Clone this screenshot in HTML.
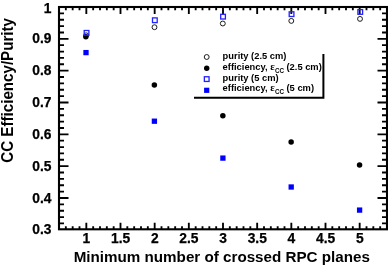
<!DOCTYPE html>
<html><head><meta charset="utf-8"><title>CC Efficiency/Purity</title>
<style>html,body{margin:0;padding:0;background:#fff;}svg{display:block;}text{font-family:"Liberation Sans",Arial,sans-serif;font-weight:bold;fill:#000;}</style></head><body>
<svg width="388" height="268" viewBox="0 0 388 268">
<rect x="0" y="0" width="388" height="268" fill="#fff"/>
<path d="M65.83 229.3 v-3.00 M65.83 7.0 v3.3 M72.67 229.3 v-3.00 M72.67 7.0 v3.3 M79.50 229.3 v-3.00 M79.50 7.0 v3.3 M86.33 229.3 v-6.60 M86.33 7.0 v6.9 M93.17 229.3 v-3.00 M93.17 7.0 v3.3 M100.00 229.3 v-3.00 M100.00 7.0 v3.3 M106.83 229.3 v-3.00 M106.83 7.0 v3.3 M113.67 229.3 v-3.00 M113.67 7.0 v3.3 M120.50 229.3 v-6.60 M120.50 7.0 v6.9 M127.33 229.3 v-3.00 M127.33 7.0 v3.3 M134.17 229.3 v-3.00 M134.17 7.0 v3.3 M141.00 229.3 v-3.00 M141.00 7.0 v3.3 M147.83 229.3 v-3.00 M147.83 7.0 v3.3 M154.67 229.3 v-6.60 M154.67 7.0 v6.9 M161.50 229.3 v-3.00 M161.50 7.0 v3.3 M168.33 229.3 v-3.00 M168.33 7.0 v3.3 M175.17 229.3 v-3.00 M175.17 7.0 v3.3 M182.00 229.3 v-3.00 M182.00 7.0 v3.3 M188.83 229.3 v-6.60 M188.83 7.0 v6.9 M195.67 229.3 v-3.00 M195.67 7.0 v3.3 M202.50 229.3 v-3.00 M202.50 7.0 v3.3 M209.33 229.3 v-3.00 M209.33 7.0 v3.3 M216.17 229.3 v-3.00 M216.17 7.0 v3.3 M223.00 229.3 v-6.60 M223.00 7.0 v6.9 M229.83 229.3 v-3.00 M229.83 7.0 v3.3 M236.67 229.3 v-3.00 M236.67 7.0 v3.3 M243.50 229.3 v-3.00 M243.50 7.0 v3.3 M250.33 229.3 v-3.00 M250.33 7.0 v3.3 M257.17 229.3 v-6.60 M257.17 7.0 v6.9 M264.00 229.3 v-3.00 M264.00 7.0 v3.3 M270.83 229.3 v-3.00 M270.83 7.0 v3.3 M277.67 229.3 v-3.00 M277.67 7.0 v3.3 M284.50 229.3 v-3.00 M284.50 7.0 v3.3 M291.33 229.3 v-6.60 M291.33 7.0 v6.9 M298.17 229.3 v-3.00 M298.17 7.0 v3.3 M305.00 229.3 v-3.00 M305.00 7.0 v3.3 M311.83 229.3 v-3.00 M311.83 7.0 v3.3 M318.67 229.3 v-3.00 M318.67 7.0 v3.3 M325.50 229.3 v-6.60 M325.50 7.0 v6.9 M332.33 229.3 v-3.00 M332.33 7.0 v3.3 M339.17 229.3 v-3.00 M339.17 7.0 v3.3 M346.00 229.3 v-3.00 M346.00 7.0 v3.3 M352.83 229.3 v-3.00 M352.83 7.0 v3.3 M359.67 229.3 v-6.60 M359.67 7.0 v6.9 M366.50 229.3 v-3.00 M366.50 7.0 v3.3 M373.33 229.3 v-3.00 M373.33 7.0 v3.3 M380.17 229.3 v-3.00 M380.17 7.0 v3.3 M59.0 223.43 h5.0 M387.0 223.43 h-5.0 M59.0 217.07 h5.0 M387.0 217.07 h-5.0 M59.0 210.70 h5.0 M387.0 210.70 h-5.0 M59.0 204.34 h5.0 M387.0 204.34 h-5.0 M59.0 197.97 h9.5 M387.0 197.97 h-9.5 M59.0 191.61 h5.0 M387.0 191.61 h-5.0 M59.0 185.24 h5.0 M387.0 185.24 h-5.0 M59.0 178.87 h5.0 M387.0 178.87 h-5.0 M59.0 172.51 h5.0 M387.0 172.51 h-5.0 M59.0 166.14 h9.5 M387.0 166.14 h-9.5 M59.0 159.78 h5.0 M387.0 159.78 h-5.0 M59.0 153.41 h5.0 M387.0 153.41 h-5.0 M59.0 147.05 h5.0 M387.0 147.05 h-5.0 M59.0 140.68 h5.0 M387.0 140.68 h-5.0 M59.0 134.31 h9.5 M387.0 134.31 h-9.5 M59.0 127.95 h5.0 M387.0 127.95 h-5.0 M59.0 121.58 h5.0 M387.0 121.58 h-5.0 M59.0 115.22 h5.0 M387.0 115.22 h-5.0 M59.0 108.85 h5.0 M387.0 108.85 h-5.0 M59.0 102.49 h9.5 M387.0 102.49 h-9.5 M59.0 96.12 h5.0 M387.0 96.12 h-5.0 M59.0 89.75 h5.0 M387.0 89.75 h-5.0 M59.0 83.39 h5.0 M387.0 83.39 h-5.0 M59.0 77.02 h5.0 M387.0 77.02 h-5.0 M59.0 70.66 h9.5 M387.0 70.66 h-9.5 M59.0 64.29 h5.0 M387.0 64.29 h-5.0 M59.0 57.93 h5.0 M387.0 57.93 h-5.0 M59.0 51.56 h5.0 M387.0 51.56 h-5.0 M59.0 45.19 h5.0 M387.0 45.19 h-5.0 M59.0 38.83 h9.5 M387.0 38.83 h-9.5 M59.0 32.46 h5.0 M387.0 32.46 h-5.0 M59.0 26.10 h5.0 M387.0 26.10 h-5.0 M59.0 19.73 h5.0 M387.0 19.73 h-5.0 M59.0 13.37 h5.0 M387.0 13.37 h-5.0" stroke="#000" stroke-width="1.85" fill="none"/>
<rect x="59.0" y="7.0" width="328.0" height="222.3" fill="none" stroke="#000" stroke-width="2.1"/>
<text x="51.4" y="234.35" font-size="13.8" stroke="#000" stroke-width="0.25" text-anchor="end">0.3</text>
<text x="51.4" y="202.52" font-size="13.8" stroke="#000" stroke-width="0.25" text-anchor="end">0.4</text>
<text x="51.4" y="170.69" font-size="13.8" stroke="#000" stroke-width="0.25" text-anchor="end">0.5</text>
<text x="51.4" y="138.86" font-size="13.8" stroke="#000" stroke-width="0.25" text-anchor="end">0.6</text>
<text x="51.4" y="107.04" font-size="13.8" stroke="#000" stroke-width="0.25" text-anchor="end">0.7</text>
<text x="51.4" y="75.21" font-size="13.8" stroke="#000" stroke-width="0.25" text-anchor="end">0.8</text>
<text x="51.4" y="43.38" font-size="13.8" stroke="#000" stroke-width="0.25" text-anchor="end">0.9</text>
<text x="51.4" y="13.00" font-size="13.8" stroke="#000" stroke-width="0.25" text-anchor="end">1</text>
<text x="86.43" y="242.9" font-size="13.8" stroke="#000" stroke-width="0.25" text-anchor="middle">1</text>
<text x="120.60" y="242.9" font-size="13.8" stroke="#000" stroke-width="0.25" text-anchor="middle">1.5</text>
<text x="154.77" y="242.9" font-size="13.8" stroke="#000" stroke-width="0.25" text-anchor="middle">2</text>
<text x="188.93" y="242.9" font-size="13.8" stroke="#000" stroke-width="0.25" text-anchor="middle">2.5</text>
<text x="223.10" y="242.9" font-size="13.8" stroke="#000" stroke-width="0.25" text-anchor="middle">3</text>
<text x="257.27" y="242.9" font-size="13.8" stroke="#000" stroke-width="0.25" text-anchor="middle">3.5</text>
<text x="291.43" y="242.9" font-size="13.8" stroke="#000" stroke-width="0.25" text-anchor="middle">4</text>
<text x="325.60" y="242.9" font-size="13.8" stroke="#000" stroke-width="0.25" text-anchor="middle">4.5</text>
<text x="359.77" y="242.9" font-size="13.8" stroke="#000" stroke-width="0.25" text-anchor="middle">5</text>
<text x="73.7" y="261.6" font-size="15.2">Minimum number of crossed RPC planes</text>
<text transform="translate(13.1,162.7) rotate(-90) scale(0.935,1)" font-size="16.2">CC Efficiency/Purity</text>
<circle cx="86.2" cy="35.3" r="2.45" fill="none" stroke="#111" stroke-width="0.95"/>
<circle cx="154.5" cy="27.2" r="2.45" fill="none" stroke="#111" stroke-width="0.95"/>
<circle cx="222.8" cy="23.5" r="2.45" fill="none" stroke="#111" stroke-width="0.95"/>
<circle cx="291.3" cy="20.9" r="2.45" fill="none" stroke="#111" stroke-width="0.95"/>
<circle cx="360" cy="18.9" r="2.45" fill="none" stroke="#111" stroke-width="0.95"/>
<circle cx="85.85" cy="36.8" r="2.75" fill="#000"/>
<circle cx="154.35" cy="85.1" r="2.75" fill="#000"/>
<circle cx="222.85" cy="115.7" r="2.75" fill="#000"/>
<circle cx="291.15" cy="142" r="2.75" fill="#000"/>
<circle cx="359.55" cy="164.9" r="2.75" fill="#000"/>
<rect x="84.20" y="30.50" width="4.7" height="4.7" fill="none" stroke="#2222ff" stroke-width="1.3"/>
<rect x="152.50" y="17.90" width="4.7" height="4.7" fill="none" stroke="#2222ff" stroke-width="1.3"/>
<rect x="220.70" y="14.30" width="4.7" height="4.7" fill="none" stroke="#2222ff" stroke-width="1.3"/>
<rect x="289.20" y="11.80" width="4.7" height="4.7" fill="none" stroke="#2222ff" stroke-width="1.3"/>
<rect x="357.90" y="9.60" width="4.7" height="4.7" fill="none" stroke="#2222ff" stroke-width="1.3"/>
<rect x="83.35" y="49.95" width="5.3" height="5.3" fill="#0000ff"/>
<rect x="151.75" y="118.55" width="5.3" height="5.3" fill="#0000ff"/>
<rect x="220.25" y="155.45" width="5.3" height="5.3" fill="#0000ff"/>
<rect x="288.55" y="184.35" width="5.3" height="5.3" fill="#0000ff"/>
<rect x="356.95" y="207.45" width="5.3" height="5.3" fill="#0000ff"/>
<rect x="191" y="50" width="131" height="46.5" fill="#fff"/>
<path d="M194 97.8 H323.4 V54" fill="none" stroke="#000" stroke-width="2"/>
<circle cx="206.7" cy="57" r="2.45" fill="none" stroke="#111" stroke-width="0.95"/>
<circle cx="206.7" cy="68.2" r="2.7" fill="#000"/>
<rect x="204.35" y="76.75" width="4.7" height="4.7" fill="none" stroke="#2222ff" stroke-width="1.3"/>
<rect x="204.1" y="87.7" width="5.2" height="5.2" fill="#0000ff"/>
<text transform="translate(222.6,59.0) scale(0.963,1)" font-size="9.7">purity (2.5 cm)</text>
<text transform="translate(222.6,69.5) scale(0.963,1)" font-size="9.7">efficiency,</text><text x="270.3" y="69.70" font-family="'Liberation Serif',serif" font-weight="bold" font-size="10.6" style="font-family:'Liberation Serif',serif">ε</text><text transform="translate(274.9,72.50) scale(0.86,1)" font-size="7.3">CC</text><text transform="translate(286.5,69.5) scale(0.963,1)" font-size="9.7">(2.5 cm)</text>
<text transform="translate(222.6,81.1) scale(0.963,1)" font-size="9.7">purity (5 cm)</text>
<text transform="translate(222.6,91.0) scale(0.963,1)" font-size="9.7">efficiency,</text><text x="270.3" y="91.20" font-family="'Liberation Serif',serif" font-weight="bold" font-size="10.6" style="font-family:'Liberation Serif',serif">ε</text><text transform="translate(274.9,94.00) scale(0.86,1)" font-size="7.3">CC</text><text transform="translate(286.5,91.0) scale(0.963,1)" font-size="9.7">(5 cm)</text>
</svg></body></html>
